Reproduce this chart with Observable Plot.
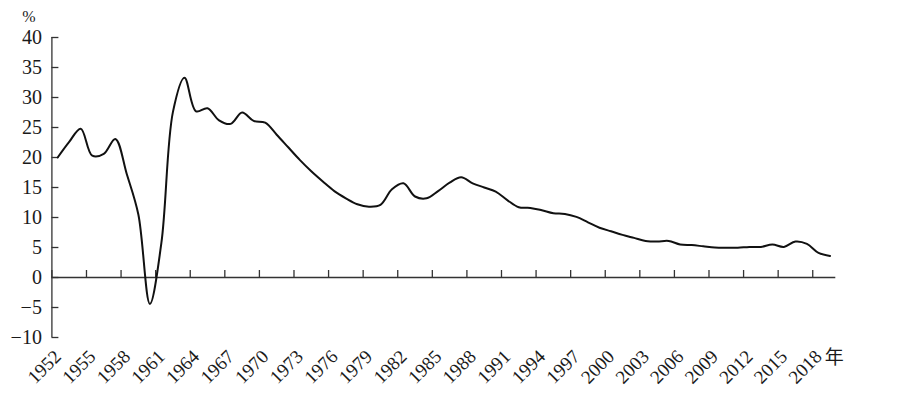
<!DOCTYPE html>
<html><head><meta charset="utf-8">
<script src="https://cdn.jsdelivr.net/npm/d3@7"></script>
<script src="https://cdn.jsdelivr.net/npm/@observablehq/plot@0.6"></script>
<style>body{margin:0;background:#fff} svg{display:block}</style>
</head><body><div id="chart"></div>
<script>
const years = [1952,1953,1954,1955,1956,1957,1958,1959,1960,1961,1962,1963,1964,1965,1966,1967,1968,1969,
  1970,1971,1972,1973,1974,1975,1976,1977,1978,1979,1980,1981,1982,1983,1984,1985,1986,1987,1988,1989,
  1990,1991,1992,1993,1994,1995,1996,1997,1998,1999,2000,2001,2002,2003,2004,2005,2006,2007,2008,2009,
  2010,2011,2012,2013,2014,2015,2016,2017,2018,2019];
const values = [20.0,22.6,24.8,20.3,20.6,23.1,17.2,10.5,-4.4,5.8,27.6,33.3,27.7,28.2,26.2,25.6,27.5,26.1,
  25.8,23.8,21.7,19.6,17.7,16.0,14.4,13.2,12.2,11.8,12.1,14.7,15.7,13.5,13.2,14.4,15.8,16.7,15.7,15.0,
  14.3,12.9,11.7,11.6,11.2,10.7,10.6,10.1,9.2,8.3,7.7,7.1,6.6,6.1,6.0,6.1,5.5,5.4,5.2,5.0,
  4.95,4.95,5.1,5.1,5.5,5.1,6.0,5.6,4.1,3.6];
const xTicks = [1952,1955,1958,1961,1964,1967,1970,1973,1976,1979,1982,1985,1988,1991,1994,1997,2000,2003,2006,2009,2012,2015,2018];
const yTicks = [-10,-5,0,5,10,15,20,25,30,35,40];
const xDomain = [1952, 2020];
const yDomain = [-10, 40];
const unitLabel = ["%"];
const yearLabel = ["年"];

const data = years.map((y, i) => ({year: y, value: values[i]}));

const W = 900, H = 396, mL = 51.4, mR = 64.7, mT = 37, mB = 59;
const plotW = W - mL - mR, plotH = H - mT - mB;
const zeroY = plotH * (yDomain[1] - 0) / (yDomain[1] - yDomain[0]);
const tickLen = 7;
const axisColor = "#333";
const serif = "'Liberation Serif', 'Times New Roman', serif";

const chart = Plot.plot({
  width: W, height: H,
  marginLeft: mL, marginRight: mR, marginTop: mT, marginBottom: mB,
  style: {fontFamily: serif, fontSize: "20px", color: "#1a1a1a", background: "#fff", overflow: "visible"},
  x: {domain: xDomain},
  y: {domain: yDomain},
  marks: [
    Plot.axisY(yTicks, {tickSize: 0, tickPadding: 10, fontSize: 20, label: null}),
    Plot.axisX(xTicks, {anchor: "bottom", tickSize: 0, tickRotate: -45, tickPadding: 16, dx: 6, fontSize: 19, tickFormat: d => String(d), label: null}),
    Plot.ruleX([xDomain[0]], {stroke: axisColor, strokeWidth: 1.3}),
    Plot.ruleY([0], {stroke: axisColor, strokeWidth: 1.3}),
    Plot.tickY(yTicks, {y: d => d, insetRight: plotW - tickLen, stroke: axisColor, strokeWidth: 1.3}),
    Plot.tickX(xTicks, {x: d => d, insetTop: zeroY - tickLen, insetBottom: plotH - zeroY, stroke: axisColor, strokeWidth: 1.3}),
    Plot.line(data, {x: d => d.year + 0.5, y: "value", curve: "catmull-rom", stroke: "#111", strokeWidth: 2}),
    Plot.text(unitLabel, {text: d => d, frameAnchor: "top-left", lineAnchor: "bottom", textAnchor: "middle", dx: -23, dy: -16, fontSize: 16, fill: "#1a1a1a"}),
    Plot.text(yearLabel, {text: d => d, frameAnchor: "bottom-right", dx: 8, dy: 26, fontSize: 19, fontFamily: "'Noto Sans CJK SC', sans-serif", fill: "#1a1a1a"})
  ]
});
document.getElementById("chart").appendChild(chart);
</script>
</body></html>
